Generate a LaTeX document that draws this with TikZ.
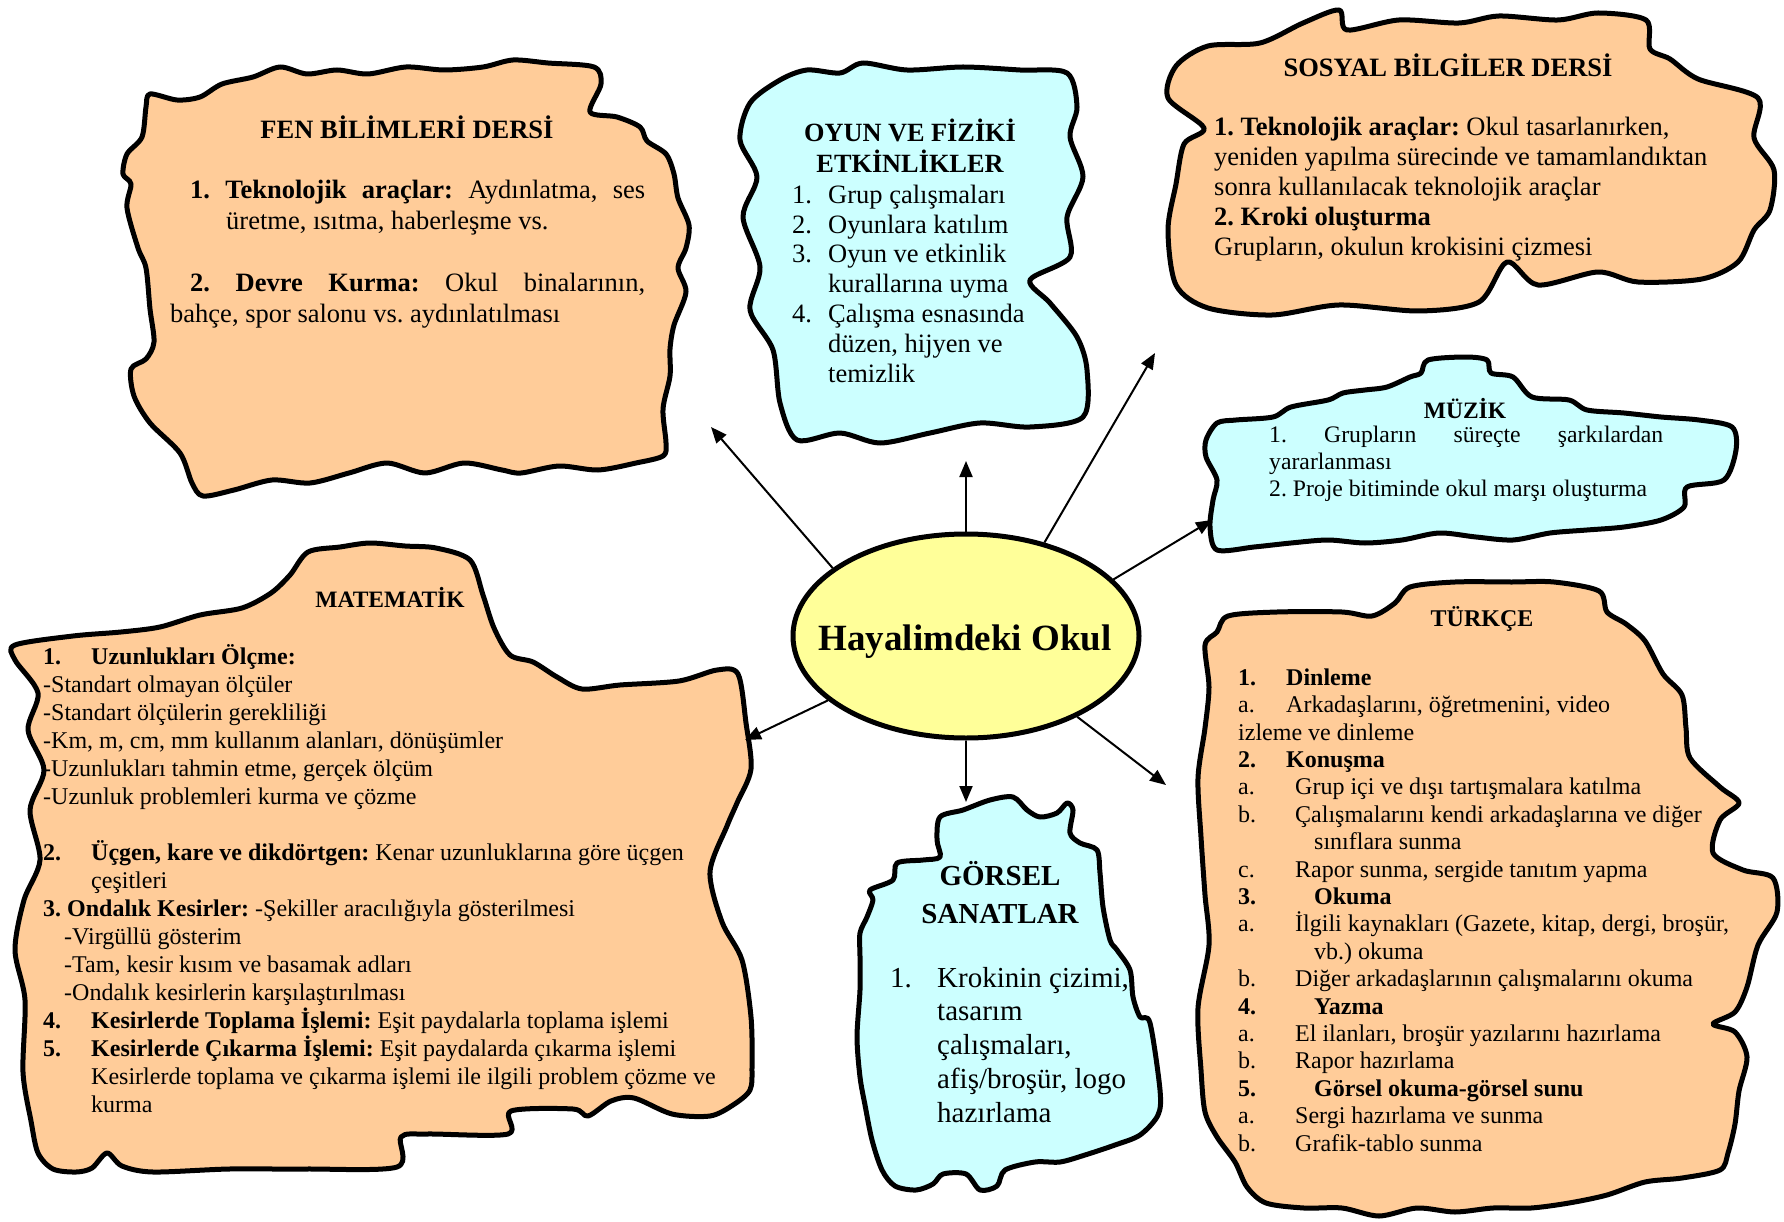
\documentclass[tikz,border=0pt]{standalone}
\usepackage{fontspec}
\setmainfont{Liberation Serif}
\usetikzlibrary{arrows.meta,shapes.geometric}
\definecolor{peach}{RGB}{255,204,153}
\definecolor{aqua}{RGB}{204,255,255}
\definecolor{lemon}{RGB}{255,255,153}
\newcommand{\fsz}[2]{\fontsize{#1}{#2}\selectfont}
\frenchspacing

\begin{document}
\begin{tikzpicture}[x=1pt, y=-1pt,
  blob/.style={line width=5pt, line join=round},
  peachblob/.style={blob, fill=peach},
  aquablob/.style={blob, fill=aqua},
  boxtitle/.style={anchor=base, inner sep=0pt, align=center},
  boxbody/.style={anchor=base west, inner sep=0pt, align=left},
  arr/.style={line width=2pt, -{Triangle[length=16pt,width=13pt]}}]
\useasboundingbox (0,0) rectangle (1784,1222);
% text nodes are anchored at the baseline of their last line

% FEN BILIMLERI
\draw[peachblob] plot[smooth cycle, tension=0.5] coordinates {
  (150,94) (177,100) (200,97) (222,84) (253,77) (280,67) (307,74) (337,70)
  (368,74) (406,67) (444,70) (483,67) (513,60) (548,63) (594,67) (601,84)
  (590,112) (617,117) (640,127) (647,141) (666,154) (674,174) (678,198)
  (689,225) (686,248) (678,268) (686,292) (674,325) (670,349) (670,376)
  (663,409) (666,443) (663,456) (636,463) (598,470) (559,466) (521,473)
  (502,470) (464,463) (425,473) (387,463) (349,473) (310,483) (272,480)
  (234,490) (203,496) (192,483) (180,453) (150,423) (134,396) (131,369)
  (146,359) (154,342) (150,309) (146,268) (138,248) (127,208) (131,184)
  (123,174) (127,154) (142,137) (146,107)};
\node[boxtitle, font=\fsz{26.5}{31}\bfseries] (fenTitle) at (407,139) {FEN BİLİMLERİ DERSİ};
\node[boxbody, font=\fsz{26.5}{31}] (fenBody) at (170,323) {%
  \hspace*{20pt}\makebox[455pt][s]{\textbf{1. Teknolojik araçlar:} Aydınlatma, ses}\\
  \hspace*{56pt}üretme, ısıtma, haberleşme vs.\\[31pt]
  \hspace*{20pt}\makebox[455pt][s]{\textbf{2. Devre Kurma:} Okul binalarının,}\\
  bahçe, spor salonu vs. aydınlatılması};

% OYUN VE FIZIKI ETKINLIKLER
\draw[aquablob] plot[smooth cycle, tension=0.5] coordinates {
  (780,80) (807,70) (840,73) (863,63) (907,70) (963,67) (1020,70) (1067,73)
  (1077,107) (1070,137) (1083,177) (1067,217) (1070,257) (1030,280) (1050,303)
  (1077,337) (1087,370) (1083,417) (1030,427) (980,423) (930,433) (880,443)
  (840,433) (797,440) (780,403) (773,350) (750,310) (760,267) (743,217)
  (757,177) (740,140) (750,103)};
\node[boxtitle, font=\fsz{26.3}{31}\bfseries] (oyunTitle) at (910,173) {OYUN VE FİZİKİ\\ETKİNLİKLER};
\node[boxbody, font=\fsz{26.5}{29.8}] (oyunBody) at (792,382) {%
  \makebox[36pt][l]{1.}Grup çalışmaları\\
  \makebox[36pt][l]{2.}Oyunlara katılım\\
  \makebox[36pt][l]{3.}Oyun ve etkinlik\\
  \hspace*{36pt}kurallarına uyma\\
  \makebox[36pt][l]{4.}Çalışma esnasında\\
  \hspace*{36pt}düzen, hijyen ve\\
  \hspace*{36pt}temizlik};

% SOSYAL BILGILER
\draw[peachblob] plot[smooth cycle, tension=0.5] coordinates {
  (1176,66) (1208,46) (1260,43) (1303,23) (1339,10) (1347,30) (1399,20)
  (1459,23) (1499,16) (1558,20) (1598,13) (1646,20) (1650,49) (1670,59)
  (1698,79) (1758,98) (1754,138) (1774,170) (1770,210) (1754,230) (1738,262)
  (1702,279) (1638,282) (1598,272) (1538,285) (1507,262) (1479,302) (1419,311)
  (1339,305) (1272,315) (1208,308) (1176,285) (1168,230) (1176,184) (1184,144)
  (1204,128) (1168,98)};
\node[boxtitle, font=\fsz{26.5}{30}\bfseries] (sosTitle) at (1448,77) {SOSYAL BİLGİLER DERSİ};
\node[boxbody, font=\fsz{26.5}{30}] (sosBody) at (1214,256) {%
  \textbf{1. Teknolojik araçlar:} Okul tasarlanırken,\\
  yeniden yapılma sürecinde ve tamamlandıktan\\
  sonra kullanılacak teknolojik araçlar\\
  \textbf{2. Kroki oluşturma}\\
  Grupların, okulun krokisini çizmesi};

% MUZIK
\draw[aquablob] plot[smooth cycle, tension=0.5] coordinates {
  (1206,440) (1217,423) (1236,420) (1273,417) (1291,407) (1328,400) (1343,393)
  (1365,390) (1387,387) (1410,377) (1421,373) (1428,360) (1465,357) (1487,360)
  (1491,373) (1513,377) (1532,397) (1569,400) (1587,410) (1624,413) (1661,417)
  (1699,420) (1732,427) (1736,450) (1724,480) (1687,487) (1684,507) (1661,520)
  (1624,527) (1587,530) (1550,533) (1513,540) (1476,537) (1439,533) (1402,540)
  (1365,543) (1328,540) (1291,543) (1254,547) (1217,550) (1210,527) (1213,500)
  (1217,480) (1206,457)};
\node[boxtitle, font=\fsz{23.5}{27}\bfseries] (muzTitle) at (1465,418) {MÜZİK};
\node[boxbody, font=\fsz{23.7}{27}] (muzBody) at (1269,496) {%
  \makebox[394pt][s]{1. Grupların süreçte şarkılardan}\\
  yararlanması\\
  2. Proje bitiminde okul marşı oluşturma};

% MATEMATIK
\draw[peachblob] plot[smooth cycle, tension=0.5] coordinates {
  (15,645) (73,636) (121,632) (160,627) (200,615) (242,608) (271,593) (290,575)
  (308,552) (340,547) (370,543) (405,546) (436,548) (470,560) (483,595) (494,628)
  (510,655) (533,662) (557,677) (582,689) (620,685) (679,681) (717,670) (738,674)
  (746,723) (751,769) (737,803) (727,826) (710,872) (722,922) (742,960) (751,1017)
  (752,1066) (750,1090) (733,1105) (710,1116) (672,1114) (634,1098) (611,1101)
  (588,1116) (573,1109) (511,1111) (508,1134) (427,1134) (401,1137) (397,1167)
  (305,1169) (229,1169) (153,1172) (122,1166) (107,1153) (92,1168) (76,1172)
  (53,1169) (38,1153) (31,1121) (23,1072) (25,1000) (15,950) (24,900) (40,860)
  (30,810) (44,770) (28,730) (38,693) (15,660)};
\node[boxtitle, font=\fsz{23.5}{28}\bfseries] (matTitle) at (390,607) {MATEMATİK};
\node[boxbody, font=\fsz{24}{28}] (matBody) at (43,1112) {%
  \makebox[48pt][l]{\textbf{1.}}\textbf{Uzunlukları Ölçme:}\\
  -Standart olmayan ölçüler\\
  -Standart ölçülerin gerekliliği\\
  -Km, m, cm, mm kullanım alanları, dönüşümler\\
  -Uzunlukları tahmin etme, gerçek ölçüm\\
  -Uzunluk problemleri kurma ve çözme\\[28pt]
  \makebox[48pt][l]{\textbf{2.}}\textbf{Üçgen, kare ve dikdörtgen:} Kenar uzunluklarına göre üçgen\\
  \hspace*{48pt}çeşitleri\\
  \textbf{3. Ondalık Kesirler:} -Şekiller aracılığıyla gösterilmesi\\
  \hspace*{21pt}-Virgüllü gösterim\\
  \hspace*{21pt}-Tam, kesir kısım ve basamak adları\\
  \hspace*{21pt}-Ondalık kesirlerin karşılaştırılması\\
  \makebox[48pt][l]{\textbf{4.}}\textbf{Kesirlerde Toplama İşlemi:} Eşit paydalarla toplama işlemi\\
  \makebox[48pt][l]{\textbf{5.}}\textbf{Kesirlerde Çıkarma İşlemi:} Eşit paydalarda çıkarma işlemi\\
  \hspace*{48pt}Kesirlerde toplama ve çıkarma işlemi ile ilgili problem çözme ve\\
  \hspace*{48pt}kurma};

% GORSEL SANATLAR
\draw[aquablob] plot[smooth cycle, tension=0.5] coordinates {
  (940,817) (963,810) (990,800) (1013,797) (1027,810) (1040,817) (1057,813)
  (1067,803) (1073,810) (1070,833) (1080,843) (1097,850) (1100,873) (1103,907)
  (1110,940) (1117,950) (1130,970) (1133,997) (1140,1017) (1150,1023) (1160,1090)
  (1158,1115) (1140,1135) (1115,1145) (1085,1155) (1060,1162) (1035,1162)
  (1005,1170) (997,1186) (980,1190) (966,1174) (943,1174) (933,1184) (916,1190)
  (895,1186) (882,1170) (872,1140) (865,1105) (860,1077) (857,1037) (860,990)
  (860,957) (860,933) (867,917) (873,900) (870,890) (893,880) (897,863) (923,860)
  (940,857) (937,840)};
\node[boxtitle, font=\fsz{29}{38}\bfseries] (gorTitle) at (1000,923) {GÖRSEL\\SANATLAR};
\node[boxbody, font=\fsz{29}{33.7}] (gorBody) at (890,1122) {%
  \makebox[47pt][l]{1.}Krokinin çizimi,\\
  \hspace*{47pt}tasarım\\
  \hspace*{47pt}çalışmaları,\\
  \hspace*{47pt}afiş/broşür, logo\\
  \hspace*{47pt}hazırlama};

% TURKCE
\draw[peachblob] plot[smooth cycle, tension=0.5] coordinates {
  (1217,632) (1228,616) (1277,612) (1342,612) (1372,616) (1395,603) (1410,587)
  (1455,582) (1512,582) (1554,582) (1599,591) (1607,612) (1626,624) (1645,641)
  (1663,674) (1682,695) (1686,728) (1690,758) (1720,787) (1739,803) (1720,820)
  (1713,853) (1743,870) (1773,878) (1777,912) (1758,945) (1747,987) (1735,1012)
  (1713,1024) (1735,1032) (1747,1057) (1739,1091) (1735,1124) (1728,1153)
  (1720,1170) (1682,1178) (1645,1182) (1607,1195) (1569,1203) (1531,1208)
  (1493,1208) (1455,1212) (1417,1208) (1379,1216) (1342,1208) (1304,1208)
  (1266,1203) (1247,1187) (1235,1162) (1217,1137) (1205,1112) (1201,1070)
  (1198,1008) (1209,945) (1205,895) (1201,837) (1198,778) (1205,728) (1209,687)
  (1205,645)};
\node[boxtitle, font=\fsz{24}{27.4}\bfseries] (turTitle) at (1482,626) {TÜRKÇE};
\node[boxbody, font=\fsz{24}{27.4}] (turBody) at (1238,1151) {%
  \textbf{\makebox[48pt][l]{1.}Dinleme}\\
  \makebox[48pt][l]{a.}Arkadaşlarını, öğretmenini, video\\
  izleme ve dinleme\\
  \textbf{\makebox[48pt][l]{2.}Konuşma}\\
  \makebox[57pt][l]{a.}Grup içi ve dışı tartışmalara katılma\\
  \makebox[57pt][l]{b.}Çalışmalarını kendi arkadaşlarına ve diğer\\
  \hspace*{76pt}sınıflara sunma\\
  \makebox[57pt][l]{c.}Rapor sunma, sergide tanıtım yapma\\
  \textbf{\makebox[76pt][l]{3.}Okuma}\\
  \makebox[57pt][l]{a.}İlgili kaynakları (Gazete, kitap, dergi, broşür,\\
  \hspace*{76pt}vb.) okuma\\
  \makebox[57pt][l]{b.}Diğer arkadaşlarının çalışmalarını okuma\\
  \textbf{\makebox[76pt][l]{4.}Yazma}\\
  \makebox[57pt][l]{a.}El ilanları, broşür yazılarını hazırlama\\
  \makebox[57pt][l]{b.}Rapor hazırlama\\
  \textbf{\makebox[76pt][l]{5.}Görsel okuma-görsel sunu}\\
  \makebox[57pt][l]{a.}Sergi hazırlama ve sunma\\
  \makebox[57pt][l]{b.}Grafik-tablo sunma};

% center and arrows
\node[ellipse, draw, line width=5pt, fill=lemon, minimum width=346pt, minimum height=204pt,
  inner sep=0pt] (hub) at (966,636) {};
\node[anchor=base, inner sep=0pt, font=\fsz{37}{40}\bfseries] (hubLabel) at (965,650) {Hayalimdeki Okul};

\coordinate (tFen) at (711,427);
\coordinate (tOyun) at (966,461);
\coordinate (tSos) at (1155,353);
\coordinate (tMuz) at (1212,520);
\coordinate (tMat) at (745,740);
\coordinate (tGor) at (966,802);
\coordinate (tTur) at (1166,785);

\draw[arr] (hub.153) -- (tFen);
\draw[arr] (hub.90) -- (tOyun);
\draw[arr] (hub.50) -- (tSos);
\draw[arr] (hub.21) -- (tMuz);
\draw[arr] (hub.205) -- (tMat);
\draw[arr] (hub.270) -- (tGor);
\draw[arr] (hub.324) -- (tTur);
\end{tikzpicture}
\end{document}
